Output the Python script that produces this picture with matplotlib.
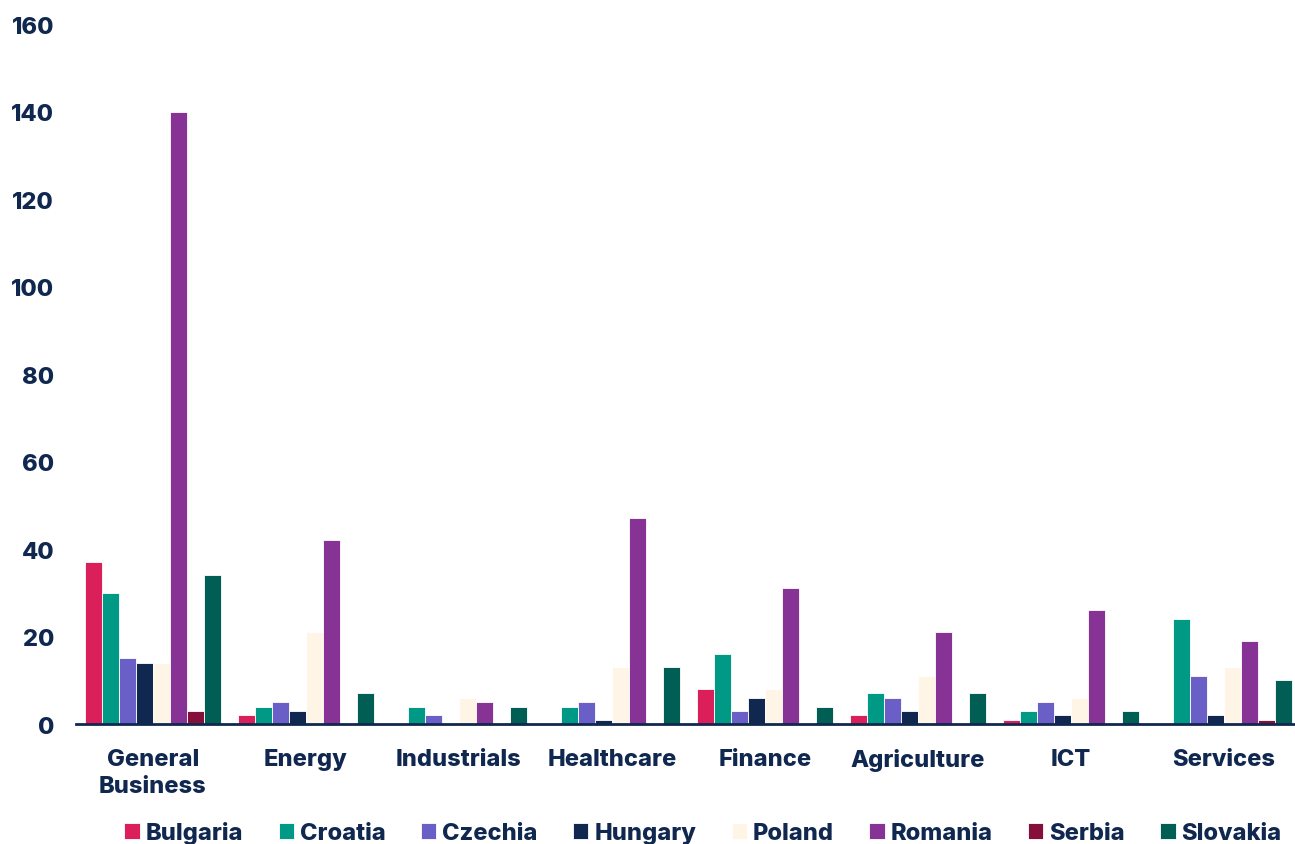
import numpy as np
import matplotlib
matplotlib.use("Agg")
import matplotlib.pyplot as plt

# sectors on the x axis
sectors = ["General\nBusiness", "Energy", "Industrials", "Healthcare",
           "Finance", "Agriculture", "ICT", "Services"]

# counts per country, one value per sector
bulgaria = [37, 2, 0, 0, 8, 2, 1, 0]
croatia = [30, 4, 4, 4, 16, 7, 3, 24]
czechia = [15, 5, 2, 5, 3, 6, 5, 11]
hungary = [14, 3, 0, 1, 6, 3, 2, 2]
poland = [14, 21, 6, 13, 8, 11, 6, 13]
romania = [140, 42, 5, 47, 31, 21, 26, 19]
serbia = [3, 0, 0, 0, 0, 0, 0, 1]
slovakia = [34, 7, 4, 13, 4, 7, 3, 10]

countries = ["Bulgaria", "Croatia", "Czechia", "Hungary",
             "Poland", "Romania", "Serbia", "Slovakia"]
series = [bulgaria, croatia, czechia, hungary, poland, romania, serbia, slovakia]
colors = ["#DB1F5A", "#009985", "#6A5FC6", "#10284F",
          "#FFF5E6", "#873396", "#850F3A", "#005E54"]

navy = "#10284F"
plt.rcParams['font.family'] = ['Inter', 'DejaVu Sans']

fig = plt.figure(figsize=(12.95, 8.45), dpi=100)
ax = fig.add_axes([0.059, 0.142, 0.945, 0.828])

x = np.arange(len(sectors))
width = 0.111
offsets = (np.arange(len(countries)) - (len(countries) - 1) / 2) * width

for off, vals, name, col in zip(offsets, series, countries, colors):
    ax.bar(x + off, vals, width, color=col, label=name,
           edgecolor="white", linewidth=0.6, zorder=2)

ax.set_xlim(-0.5, len(sectors) - 0.5)
ax.set_ylim(0, 160)
ax.set_yticks(range(0, 161, 20))
ax.set_xticks(x)
ax.set_xticklabels(sectors, fontsize=17, fontweight="heavy", color=navy,
                   linespacing=1.3)
for lbl in ax.get_yticklabels():
    lbl.set_fontsize(17)
    lbl.set_fontweight("heavy")
    lbl.set_color(navy)

ax.tick_params(axis="both", length=0)
ax.tick_params(axis="y", pad=16)
ax.tick_params(axis="x", pad=17)

for side in ["top", "right", "left"]:
    ax.spines[side].set_visible(False)
ax.spines["bottom"].set_color(navy)
ax.spines["bottom"].set_linewidth(2)
ax.spines["bottom"].set_zorder(3)

leg = ax.legend(loc="center", bbox_to_anchor=(0.512, -0.155), ncol=8,
                frameon=False, handlelength=0.65, handleheight=0.65,
                handletextpad=0.25, columnspacing=1.5,
                prop={"size": 17, "weight": "heavy"})
for t in leg.get_texts():
    t.set_color(navy)

fig.savefig("out.png", dpi=100)
